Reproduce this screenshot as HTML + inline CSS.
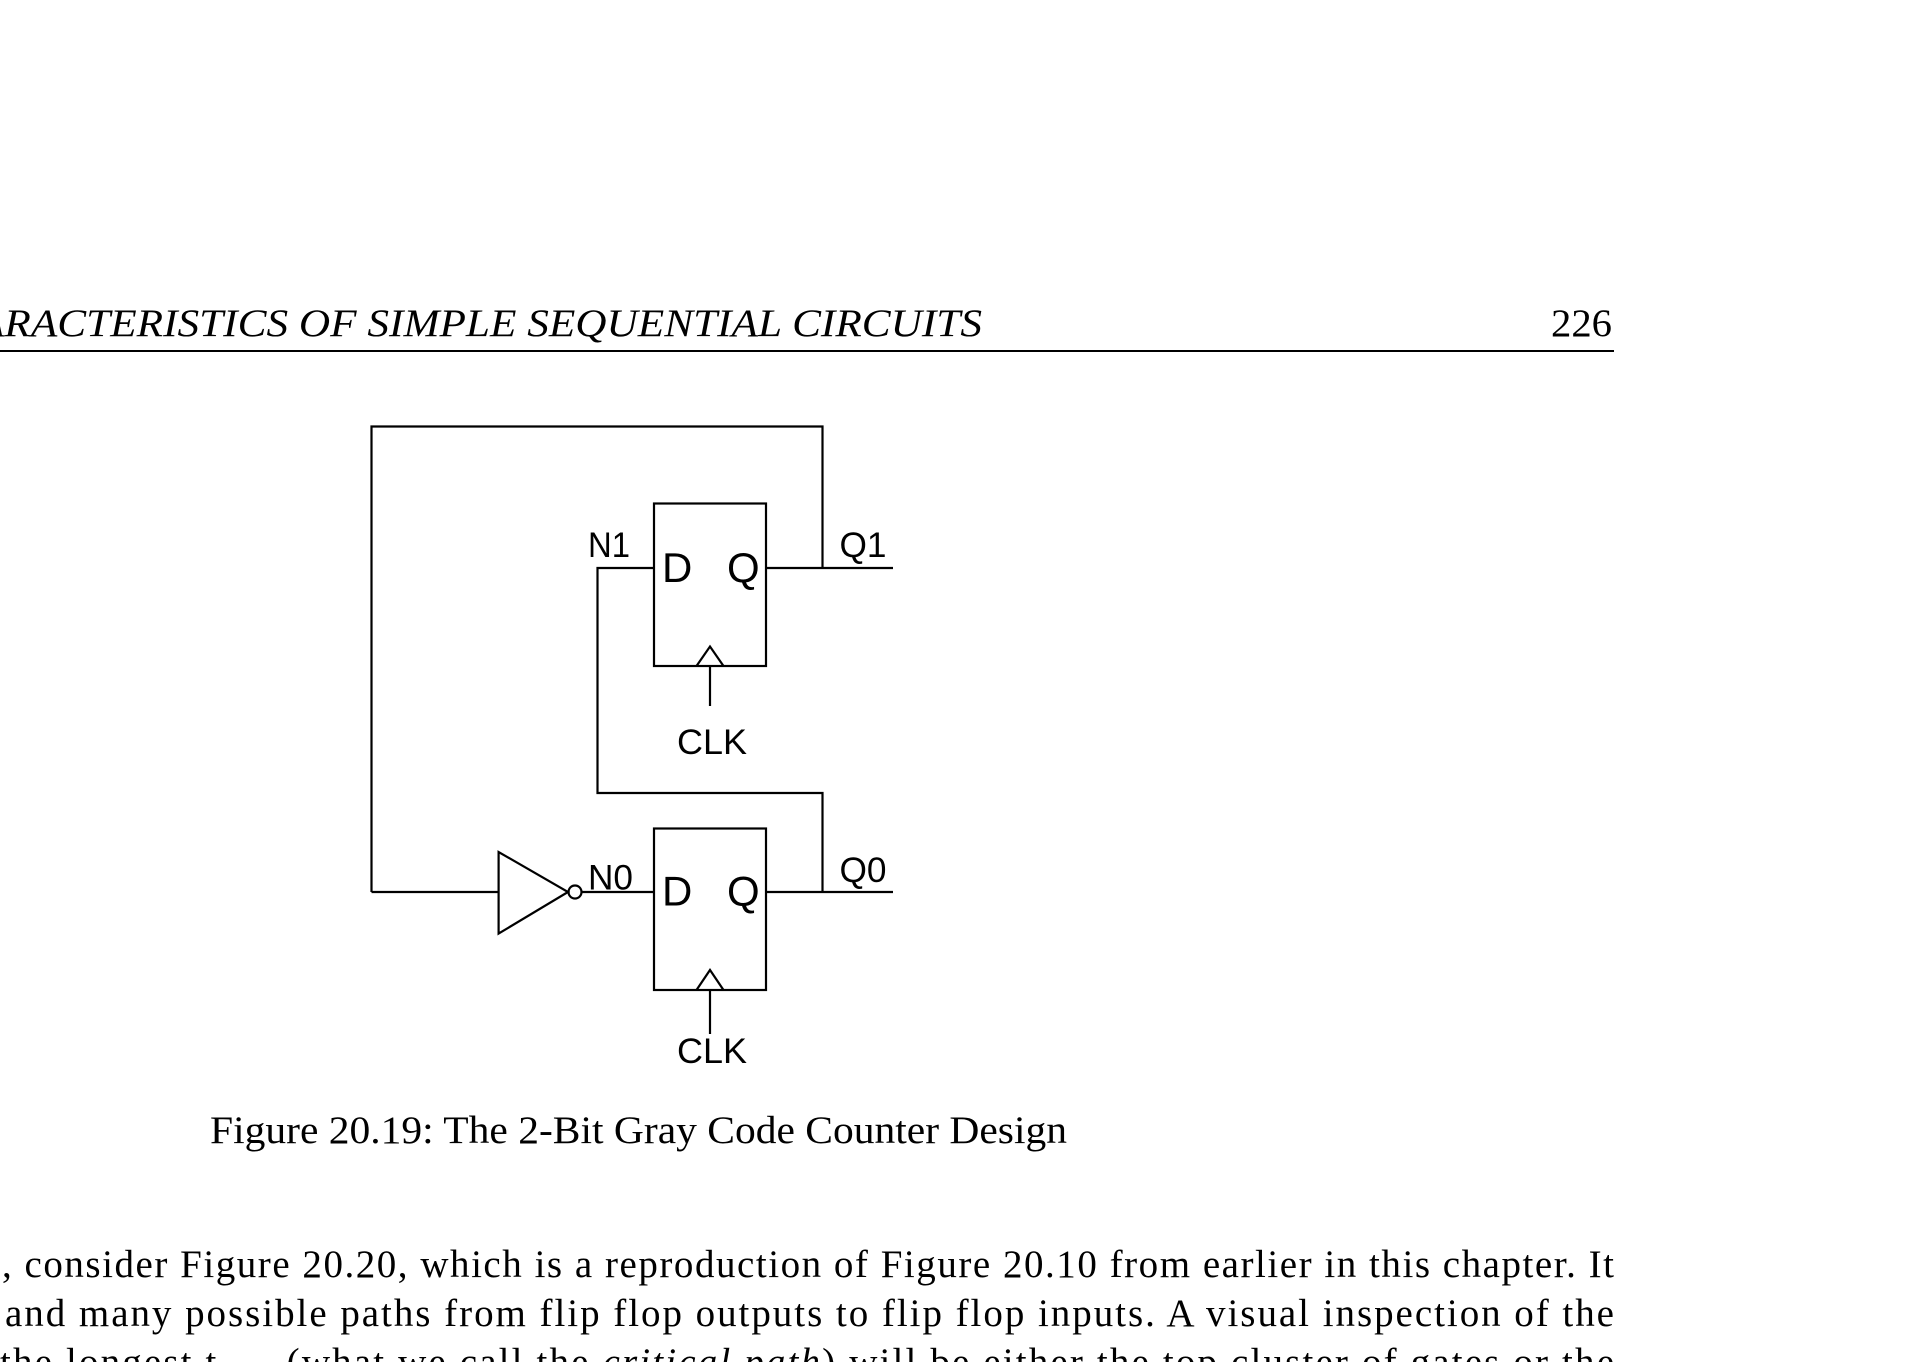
<!DOCTYPE html>
<html><head><meta charset="utf-8"><style>
html,body{margin:0;padding:0;background:#fff;width:1914px;height:1362px;overflow:hidden}
svg{display:block}
.s{font-family:"Liberation Serif",serif;fill:#000}
.a{font-family:"Liberation Sans",sans-serif;fill:#000}
</style></head><body>
<svg width="1914" height="1362" viewBox="0 0 1914 1362" xmlns="http://www.w3.org/2000/svg">
<!-- header -->
<text class="s" x="-22" y="336" font-size="39" font-style="italic" textLength="1004" lengthAdjust="spacingAndGlyphs">ARACTERISTICS OF SIMPLE SEQUENTIAL CIRCUITS</text>
<text class="s" x="1551" y="336" font-size="39" textLength="61" lengthAdjust="spacingAndGlyphs">226</text>
<line x1="0" y1="351" x2="1614" y2="351" stroke="#000" stroke-width="2"/>
<!-- diagram -->
<g fill="none" stroke="#000" stroke-width="2.2">
<polyline points="371.5,892 498.6,892"/>
<polyline points="371.5,892 371.5,426.5 822.5,426.5 822.5,568"/>
<rect x="654" y="503.5" width="112" height="162.5"/>
<rect x="654" y="828.5" width="112" height="161.5"/>
<line x1="766" y1="568" x2="893" y2="568"/>
<line x1="766" y1="892" x2="893" y2="892"/>
<polyline points="654,568 597.5,568 597.5,793 822.5,793 822.5,892"/>
<polygon points="498.6,852 498.6,933.6 568,892"/>
<circle cx="575" cy="892" r="6.5"/>
<line x1="581.5" y1="892" x2="654" y2="892"/>
<polyline points="696.5,666 710,646.5 723.5,666"/>
<line x1="710" y1="666" x2="710" y2="706"/>
<polyline points="696.5,990 710,970 723.5,990"/>
<line x1="710" y1="990" x2="710" y2="1034"/>
</g>
<text class="a" x="588" y="557" font-size="35" textLength="42" lengthAdjust="spacingAndGlyphs">N1</text>
<text class="a" x="662" y="582" font-size="42">D</text>
<text class="a" x="727" y="582" font-size="42">Q</text>
<text class="a" x="839.5" y="557" font-size="35" textLength="47" lengthAdjust="spacingAndGlyphs">Q1</text>
<text class="a" x="677" y="754" font-size="35" textLength="70" lengthAdjust="spacingAndGlyphs">CLK</text>
<text class="a" x="588" y="889.5" font-size="35" textLength="45" lengthAdjust="spacingAndGlyphs">N0</text>
<text class="a" x="662" y="905.5" font-size="42">D</text>
<text class="a" x="727" y="905.5" font-size="42">Q</text>
<text class="a" x="839.5" y="882" font-size="35" textLength="47" lengthAdjust="spacingAndGlyphs">Q0</text>
<text class="a" x="677" y="1063" font-size="35" textLength="70" lengthAdjust="spacingAndGlyphs">CLK</text>
<!-- caption -->
<text class="s" x="210" y="1143" font-size="39" textLength="857" lengthAdjust="spacingAndGlyphs">Figure 20.19: The 2-Bit Gray Code Counter Design</text>
<!-- body -->
<text class="s" x="2" y="1277" font-size="39" textLength="1612" lengthAdjust="spacing">, consider Figure 20.20, which is a reproduction of Figure 20.10 from earlier in this chapter.  It</text>
<text class="s" x="5" y="1326" font-size="39" textLength="1609" lengthAdjust="spacing">and many possible paths from flip flop outputs to flip flop inputs.  A visual inspection of the</text>
<text class="s" x="0" y="1375" font-size="39" textLength="1614" lengthAdjust="spacing">the longest t<tspan font-size="26" dy="6">prop</tspan><tspan dy="-6"> (what we call the </tspan><tspan font-style="italic">critical path</tspan>) will be either the top cluster of gates or the</text>
</svg>
</body></html>
